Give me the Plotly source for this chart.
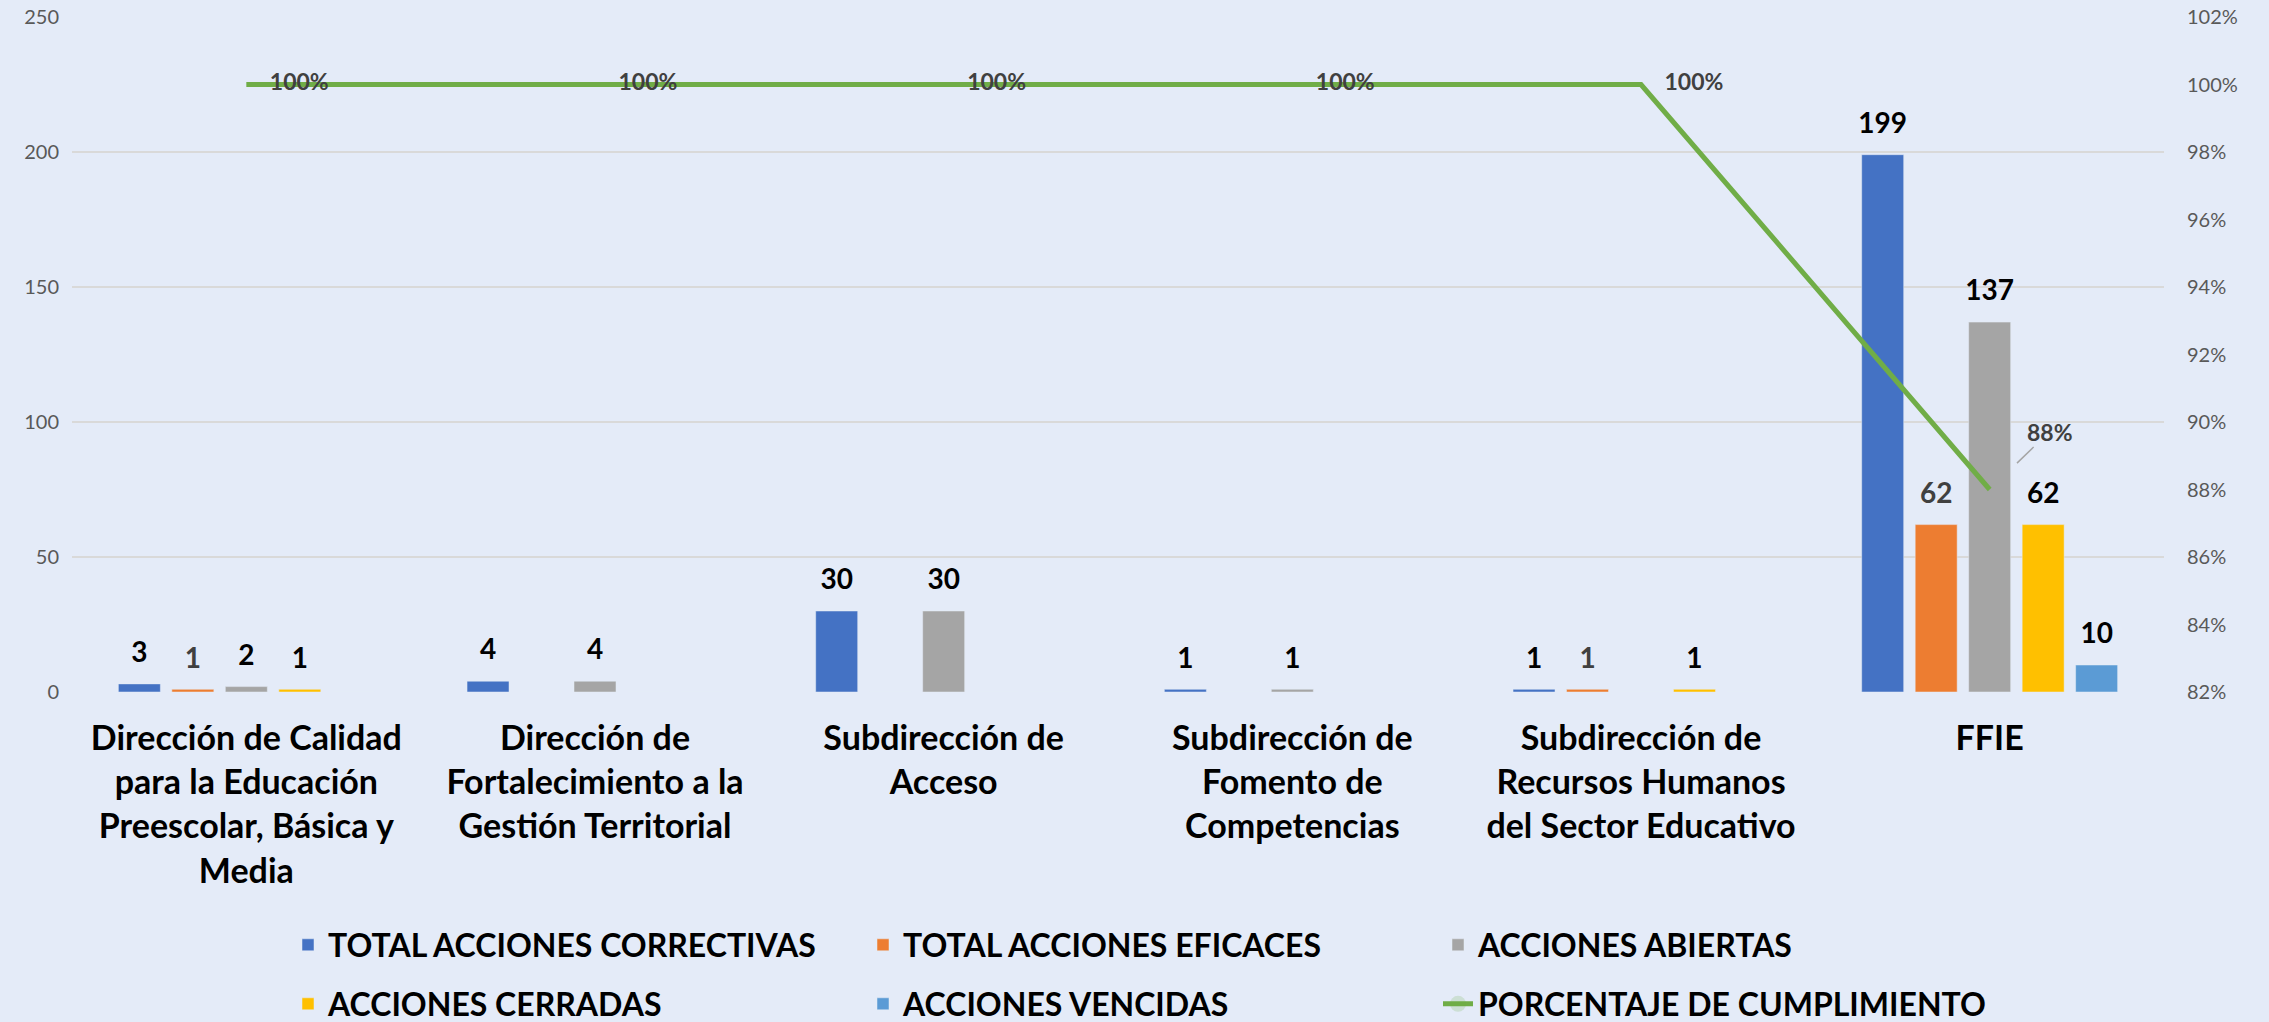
import plotly.graph_objects as go

categories = [
    "Dirección de Calidad<br>para la Educación<br>Preescolar, Básica y<br>Media",
    "Dirección de<br>Fortalecimiento a la<br>Gestión Territorial",
    "Subdirección de<br>Acceso",
    "Subdirección de<br>Fomento de<br>Competencias",
    "Subdirección de<br>Recursos Humanos<br>del Sector Educativo",
    "FFIE",
]

total_correctivas = [3, 4, 30, 1, 1, 199]
total_eficaces = [1, 0, 0, 0, 1, 62]
acciones_abiertas = [2, 4, 30, 1, 0, 137]
acciones_cerradas = [1, 0, 0, 0, 1, 62]
acciones_vencidas = [0, 0, 0, 0, 0, 10]
porcentaje = [1.00, 1.00, 1.00, 1.00, 1.00, 0.88]

series_names = [
    "TOTAL ACCIONES CORRECTIVAS",
    "TOTAL ACCIONES EFICACES",
    "ACCIONES ABIERTAS",
    "ACCIONES CERRADAS",
    "ACCIONES VENCIDAS",
]
series_values = [total_correctivas, total_eficaces, acciones_abiertas,
                 acciones_cerradas, acciones_vencidas]
series_colors = ["#4472C4", "#ED7D31", "#A5A5A5", "#FFC000", "#5B9BD5"]
label_colors = ["#000000", "#404040", "#000000", "#000000", "#000000"]
legend_ids = ["legend", "legend", "legend", "legend2", "legend2"]
legend_widths = [530, 530, 530, 530, 530]
line_name = "PORCENTAJE DE CUMPLIMIENTO"

FONT = "Lato, 'Open Sans', sans-serif"
BG = "#E4EBF8"

fig = go.Figure()

for i, (name, vals, col) in enumerate(zip(series_names, series_values, series_colors)):
    fig.add_trace(go.Bar(
        x=categories, y=vals, name=name, marker_color=col,
        offsetgroup=str(i), alignmentgroup="main",
        legend=legend_ids[i], legendwidth=legend_widths[i],
        hoverinfo="x+y+name",
    ))

for i, (vals, lc) in enumerate(zip(series_values, label_colors)):
    fig.add_trace(go.Scatter(
        x=categories, y=vals, mode="markers+text",
        text=[str(v) if v > 0 else "" for v in vals],
        textposition="top center",
        textfont=dict(family=FONT, size=28, color=lc, weight="bold"),
        marker=dict(size=22, opacity=0),
        offsetgroup=str(i), alignmentgroup="labels",
        showlegend=False, hoverinfo="skip",
        cliponaxis=False,
    ))

fig.add_trace(go.Scatter(
    x=categories, y=porcentaje, yaxis="y2", name=line_name,
    mode="lines+markers+text",
    line=dict(color="#70AD47", width=5),
    marker=dict(size=36, opacity=0, color="#70AD47"),
    text=[f"{p:.0%}" if p >= 1 else "" for p in porcentaje],
    textposition="middle right",
    textfont=dict(family=FONT, size=23, color="#404040", weight="bold"),
    offsetgroup="line", alignmentgroup="line",
    legend="legend2", legendwidth=600, cliponaxis=False,
))

fig.add_annotation(
    x=categories[-1], y=porcentaje[-1], xref="x", yref="y2",
    text=f"{porcentaje[-1]:.0%}", showarrow=True, arrowhead=0,
    arrowcolor="#A5A5A5", arrowwidth=1.5, ax=60, ay=-58, standoff=38,
    font=dict(family=FONT, size=23, color="#404040", weight="bold"),
)

legend_common = dict(
    orientation="h", xref="container", yref="container",
    xanchor="left", yanchor="middle", bgcolor="rgba(0,0,0,0)",
    font=dict(family=FONT, size=32, color="#000000", weight="bold"),
    itemwidth=30, traceorder="normal",
)

fig.update_layout(
    width=2269, height=1022,
    paper_bgcolor=BG, plot_bgcolor=BG,
    margin=dict(l=72, r=105, t=17, b=330, autoexpand=False),
    barmode="group", bargap=0.233, bargroupgap=0.215,
    scattermode="group", scattergap=0.233,
    font=dict(family=FONT, color="#595959"),
    xaxis=dict(
        showgrid=False, showline=False, zeroline=False, ticks="",
        tickfont=dict(family=FONT, size=34, color="#000000", weight="bold"),
        automargin=False, ticklabelstandoff=23,
    ),
    yaxis=dict(
        range=[0, 250], dtick=50, showgrid=True, gridcolor="#D9D9D9",
        gridwidth=2, zeroline=False, showline=False, ticks="",
        tickfont=dict(family=FONT, size=20, color="#595959"),
        automargin=False, ticklabelstandoff=12,
    ),
    yaxis2=dict(
        range=[0.82, 1.02], dtick=0.02, tickformat=".0%", overlaying="y",
        side="right", showgrid=False, zeroline=False, showline=False,
        ticks="", tickfont=dict(family=FONT, size=20, color="#595959"),
        automargin=False, ticklabelstandoff=22,
    ),
    legend=dict(x=288 / 2269, y=1 - 945 / 1022, **legend_common),
    legend2=dict(x=288 / 2269, y=1 - 1004 / 1022, **legend_common),
    showlegend=True,
)

fig.write_html(
    "out.html",
    config={"displayModeBar": False},
    post_script="document.body.style.margin='0';document.body.style.overflow='hidden';",
)
